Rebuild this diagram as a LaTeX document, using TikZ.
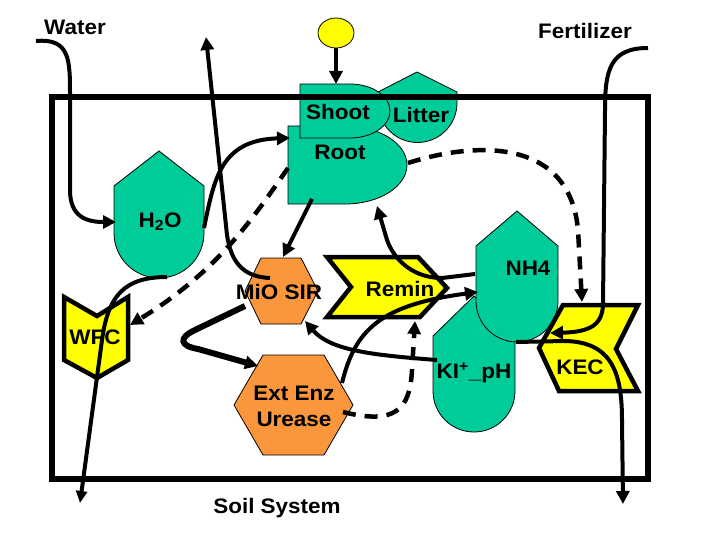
\documentclass[tikz,border=0pt]{standalone}
\usepackage{fontspec}
\setmainfont{Liberation Sans}[FakeStretch=1.07]
\usetikzlibrary{arrows.meta}
\definecolor{tgreen}{RGB}{0,204,153}
\definecolor{torange}{RGB}{250,150,60}
\definecolor{tyellow}{RGB}{255,255,0}
\begin{document}
\begin{tikzpicture}[x=1pt,y=-1pt,
  lbl/.style={font=\fontsize{21}{26}\selectfont\bfseries, inner sep=0pt, align=center},
  pool/.style={fill=tgreen, draw=black, line width=0.8pt},
  proc/.style={fill=torange, draw=black, line width=0.8pt},
  chev/.style={fill=tyellow, draw=black, line width=4.5pt, line join=miter},
  tip/.style={-{Triangle[length=13pt,width=13pt]}},
  flow/.style={line width=4pt, tip},
  dflow/.style={line width=4.5pt, dash pattern=on 13pt off 9pt, tip}]
\useasboundingbox (0,0) rectangle (720,540);

% ---------- shapes ----------
% Litter
\path[pool] (378,92) -- (417,72) -- (457,92) -- (457,103)
  arc[start angle=0,end angle=180,radius=39.5] -- cycle;
% Root
\path[pool] (288,126) -- (345,126)
  arc[start angle=-90,end angle=90,x radius=62,y radius=39] -- (288,204) -- cycle;
% Shoot
\path[pool] (300,84) -- (350,84)
  arc[start angle=-90,end angle=90,x radius=40,y radius=27] -- (300,138) -- cycle;
% H2O
\path[pool] (114,186) -- (159,151) -- (204,186) -- (204,233)
  arc[start angle=0,end angle=180,radius=45] -- cycle;
% KI+_pH
\path[pool] (433,336) -- (474,296) -- (515,336) -- (515,391)
  arc[start angle=0,end angle=180,radius=41] -- cycle;
% NH4
\path[pool] (476,246) -- (517,211) -- (558,246) -- (558,301)
  arc[start angle=0,end angle=180,radius=41] -- cycle;
% MiO SIR hexagon
\path[proc] (245,291) -- (261,258) -- (301,258) -- (318,291) -- (301,324) -- (261,324) -- cycle;
% Ext Enz hexagon
\path[proc] (234,405) -- (263,355) -- (324,355) -- (353,405) -- (324,455) -- (263,455) -- cycle;
% Remin
\path[chev] (327,257) -- (418,257) -- (447,288) -- (420,317) -- (327,317) -- (351,287) -- cycle;
% KEC
\path[chev] (563,305) -- (638,305) -- (616,349) -- (638,391) -- (559,391) -- (539,348) -- cycle;
% WFC
\path[chev] (64,297) -- (97,316) -- (128,297) -- (128,360) -- (97,378) -- (64,360) -- cycle;
% sun
\path[fill=tyellow, draw=black, line width=0.8pt] (336,33) ellipse[x radius=18, y radius=15];

% soil system box
\draw[line width=5.5pt] (52,97) rectangle (648,479);

% ---------- labels ----------
\node[lbl] (water) at (75,27) {Water};
\node[lbl] (fert) at (585,31) {Fertilizer};
\node[lbl] (soil) at (277,508) {Soil System};
\node[lbl] (shoot) at (338,112) {Shoot};
\node[lbl] (litter) at (421,115) {Litter};
\node[lbl] (root) at (340,152) {Root};
\node[lbl] (h2o) at (160,222) {H\textsubscript{2}O};
\node[lbl] (mio) at (279,292) {MiO SIR};
\node[lbl] (extenz) at (294,406) {Ext Enz\\Urease};
\node[lbl] (remin) at (400,289) {Remin};
\node[lbl] (nh4) at (528,268) {NH4};
\node[lbl] (ki) at (474,373) {KI\textsuperscript{+}\_pH};
\node[lbl] (kec) at (580,367) {KEC};
\node[lbl] (wfc) at (95,337) {WFC};

% ---------- connector end points ----------
\coordinate (sunB) at (336,48);
\coordinate (shootT) at (336,84);
\coordinate (waterS) at (36,41);
\coordinate (h2oL) at (116,222);
\coordinate (h2oR) at (204,228);
\coordinate (h2oB) at (167,277);
\coordinate (rootL) at (290,138);
\coordinate (rootLL) at (288,168);
\coordinate (rootB) at (312,199);
\coordinate (rootBR) at (377,206);
\coordinate (rootR) at (408,163);
\coordinate (mioT) at (283,257);
\coordinate (mioTL) at (270,278);
\coordinate (mioBL) at (245,306);
\coordinate (mioBR) at (305,321);
\coordinate (upEnd) at (206,37);
\coordinate (wfcR) at (130,325);
\coordinate (leachEnd) at (80,503);
\coordinate (extL) at (258,366);
\coordinate (extTR) at (342,383);
\coordinate (extR) at (343,412);
\coordinate (reminB) at (415,321);
\coordinate (nh4L) at (478,292);
\coordinate (nh4LU) at (475,274);
\coordinate (kiL) at (437,360);
\coordinate (kiTR) at (516,342);
\coordinate (kecT) at (582,302);
\coordinate (kecL) at (550,333);
\coordinate (fertS) at (648,48);
\coordinate (drainEnd) at (623,504);

% ---------- connectors ----------
\draw[flow] (sunB) -- (shootT);
\draw[flow] (waterS) .. controls (70,38) and (70,60) .. (70,95) -- (70,190)
  .. controls (70,218) and (88,222) .. (h2oL);
\draw[flow] (mioTL) .. controls (243,277) and (231,262) .. (227,235) -- (upEnd);
\draw[flow] (h2oR) .. controls (214,180) and (220,140) .. (rootL);
\draw[flow] (rootB) -- (mioT);
\draw[dflow] (rootLL) .. controls (255,215) and (220,270) .. (wfcR);
\draw[dflow] (rootR) .. controls (480,140) and (570,140) .. (578,230) -- (kecT);
\draw[flow] (fertS) .. controls (610,48) and (605,70) .. (605,110) -- (603,305)
  .. controls (602,325) and (590,332) .. (kecL);
\draw[flow] (kiTR) -- (565,341) .. controls (610,342) and (622,370) .. (622,420) -- (drainEnd);
\draw[line width=4pt, -{Triangle[length=12pt,width=11pt]}] (h2oB) .. controls (125,277) and (108,295) .. (102,340) -- (leachEnd);
\draw[line width=6pt, tip] (mioBL) -- (195,330) .. controls (178,338) and (180,346) .. (198,349) -- (extL);
\draw[flow] (kiL) .. controls (370,355) and (330,350) .. (mioBR);
\draw[flow] (extTR) .. controls (355,330) and (380,305) .. (nh4L);
\draw[flow] (nh4LU) -- (442,278) .. controls (415,278) and (395,262) .. (387,240) -- (rootBR);
\draw[dflow] (extR) .. controls (395,425) and (410,410) .. (412,370) -- (reminB);
\end{tikzpicture}
\end{document}
